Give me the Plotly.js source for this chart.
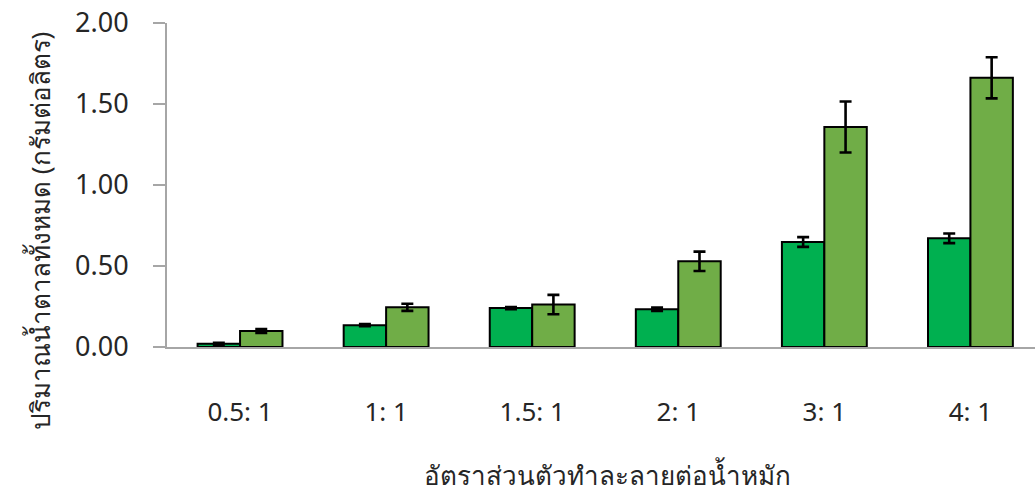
<!DOCTYPE html>
<html>
<head>
<meta charset="utf-8">
<script src="https://cdn.plot.ly/plotly-3.0.1.min.js"></script>
<style>
  html, body { margin: 0; padding: 0; background: #ffffff; }
  #chart { width: 1035px; height: 493px; }
</style>
</head>
<body>
<div id="chart"></div>
<script>
// Solvent-to-fermented-liquid ratios
const ratios = ["0.5: 1", "1: 1", "1.5: 1", "2: 1", "3: 1", "4: 1"];

// Total sugar (g/L), first series, with standard deviations
const sugarA = [0.02, 0.135, 0.24, 0.233, 0.648, 0.671];
const sugarAErr = [0.006, 0.006, 0.006, 0.01, 0.03, 0.03];

// Total sugar (g/L), second series, with standard deviations
const sugarB = [0.099, 0.245, 0.262, 0.529, 1.358, 1.662];
const sugarBErr = [0.012, 0.022, 0.06, 0.06, 0.157, 0.127];

const yTicks = [0, 0.5, 1, 1.5, 2];
const yTickText = ["0.00", "0.50", "1.00", "1.50", "2.00"];

const xTitle = "อัตราส่วนตัวทำละลายต่อน้ำหมัก";
const yTitle = "ปริมาณน้ำตาลทั้งหมด (กรัมต่อลิตร)";

const fontFamily = "Noto Sans, DejaVu Sans, sans-serif";
const textColor = "#262626";

const errStyle = (arr) => ({
  type: "data", array: arr, visible: true,
  color: "#000000", thickness: 2.6, width: 6
});

const traces = [
  {
    type: "bar", x: ratios, y: sugarA,
    marker: { color: "#00B050", line: { color: "#000000", width: 2 } },
    error_y: errStyle(sugarAErr),
    showlegend: false
  },
  {
    type: "bar", x: ratios, y: sugarB,
    marker: { color: "#70AD47", line: { color: "#000000", width: 2 } },
    error_y: errStyle(sugarBErr),
    showlegend: false
  }
];

const layout = {
  width: 1035, height: 493,
  margin: { l: 167, r: 0, t: 23, b: 146, pad: 0 },
  paper_bgcolor: "#ffffff", plot_bgcolor: "#ffffff",
  barmode: "group", bargap: 0.419, bargroupgap: 0,
  font: { family: fontFamily, color: textColor, size: 22 },
  xaxis: {
    type: "category",
    range: [-0.5, 5.442],
    showline: true, linecolor: "#A6A6A6", linewidth: 2,
    ticks: "", showgrid: false, zeroline: false,
    tickfont: { size: 26, color: textColor },
    ticklabelstandoff: 41,
    automargin: false
  },
  yaxis: {
    range: [0, 2],
    tickvals: yTicks, ticktext: yTickText,
    showline: true, linecolor: "#A6A6A6", linewidth: 2,
    ticks: "outside", ticklen: 12, tickwidth: 2, tickcolor: "#A6A6A6",
    showgrid: false, zeroline: false,
    tickfont: { size: 27, color: textColor },
    ticklabelstandoff: 19,
    automargin: false
  },
  annotations: [
    {
      text: xTitle, xref: "paper", yref: "paper",
      x: 0.507, y: -0.395, xanchor: "center", yanchor: "middle",
      showarrow: false, font: { size: 26, color: textColor }
    },
    {
      text: yTitle, xref: "paper", yref: "paper",
      x: -0.1463, y: 0.358, xanchor: "center", yanchor: "middle",
      textangle: -90,
      showarrow: false, font: { size: 26, color: textColor }
    }
  ]
};

Plotly.newPlot("chart", traces, layout, { displayModeBar: false, staticPlot: true });
</script>
</body>
</html>
